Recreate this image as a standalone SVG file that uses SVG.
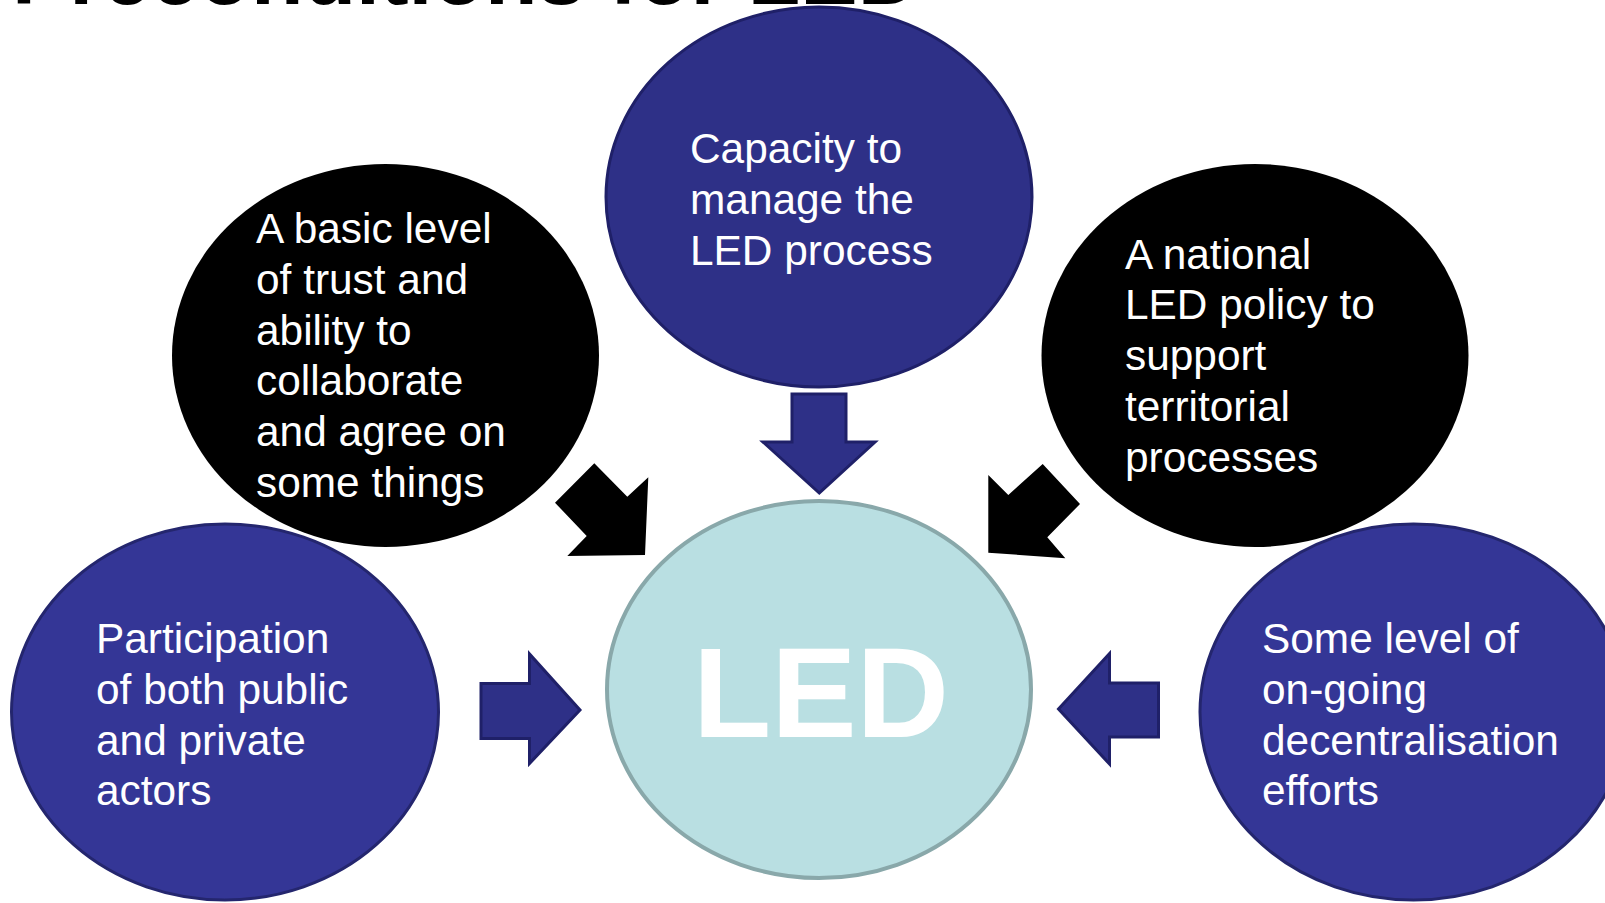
<svg xmlns="http://www.w3.org/2000/svg" width="1605" height="903" viewBox="0 0 1605 903">
<style>
.t{font-family:"Liberation Sans",Arial,sans-serif;font-size:42.4px;fill:#ffffff}
.title{font-family:"Liberation Sans",Arial,sans-serif;font-size:86px;font-weight:bold;fill:#000000}
.blue{fill:#2e3087;stroke:#1f2068;stroke-width:3}
.blue2{fill:#343696;stroke:#24266e;stroke-width:3}
.black{fill:#000000}
.arB{fill:#2e3087;stroke:#1f2068;stroke-width:3;stroke-linejoin:miter}
.arK{fill:#000000}
</style>
<rect width="1605" height="903" fill="#ffffff"/>
<text class="title" x="12" y="4">Preconditions for LED</text>

<g id="node-trust">
<ellipse class="black" cx="385.5" cy="355.5" rx="213.5" ry="191.5"/>
<text class="t" x="256" y="243"><tspan x="256">A basic level</tspan><tspan x="256" dy="50.8">of trust and</tspan><tspan x="256" dy="50.8">ability to</tspan><tspan x="256" dy="50.8">collaborate</tspan><tspan x="256" dy="50.8">and agree on</tspan><tspan x="256" dy="50.8">some things</tspan></text>
</g>

<g id="node-policy">
<ellipse class="black" cx="1255" cy="355.5" rx="213.5" ry="191.5"/>
<text class="t" x="1125" y="268.5"><tspan x="1125">A national</tspan><tspan x="1125" dy="50.8">LED policy to</tspan><tspan x="1125" dy="50.8">support</tspan><tspan x="1125" dy="50.8">territorial</tspan><tspan x="1125" dy="50.8">processes</tspan></text>
</g>

<g id="node-capacity">
<ellipse class="blue" cx="819" cy="197" rx="213" ry="190"/>
<text class="t" x="690" y="163"><tspan x="690">Capacity to</tspan><tspan x="690" dy="50.8">manage the</tspan><tspan x="690" dy="50.8">LED process</tspan></text>
</g>

<g id="node-participation">
<ellipse class="blue2" cx="225" cy="712" rx="213.5" ry="188"/>
<text class="t" x="96" y="653"><tspan x="96">Participation</tspan><tspan x="96" dy="50.8">of both public</tspan><tspan x="96" dy="50.8">and private</tspan><tspan x="96" dy="50.8">actors</tspan></text>
</g>

<g id="node-decentralisation">
<ellipse class="blue2" cx="1413.5" cy="712" rx="213.5" ry="188"/>
<text class="t" x="1262" y="653"><tspan x="1262">Some level of</tspan><tspan x="1262" dy="50.8">on-going</tspan><tspan x="1262" dy="50.8">decentralisation</tspan><tspan x="1262" dy="50.8">efforts</tspan></text>
</g>

<g id="node-led">
<ellipse cx="819" cy="689.5" rx="212" ry="188.5" fill="#b9dfe2" stroke="#89a8aa" stroke-width="4"/>
<text x="821" y="737" text-anchor="middle" font-family="'Liberation Sans',Arial,sans-serif" font-size="128" font-weight="bold" fill="#ffffff">LED</text>
</g>

<g id="connectors">
<polygon class="arB" points="792,394 846,394 846,442 875,442 819.3,493 763,442 792,442"/>
<polygon class="arB" points="481,683.5 529.5,683.5 529.5,654 580,710 529.5,763.5 529.5,738.5 481,738.5"/>
<polygon class="arB" points="1158.5,683 1109.5,683 1109.5,653.5 1058.5,709 1109.5,764 1109.5,737 1158.5,737"/>
<polygon class="arK" points="594.3,463.3 627.3,496.7 648.3,477.3 645,555 567.3,556 586.7,536 555,502.7"/>
<polygon class="arK" points="988.3,475 1008.3,495 1042.7,464 1080,504 1047.3,537.3 1065.3,558.3 988.3,552.7"/>
</g>
</svg>
